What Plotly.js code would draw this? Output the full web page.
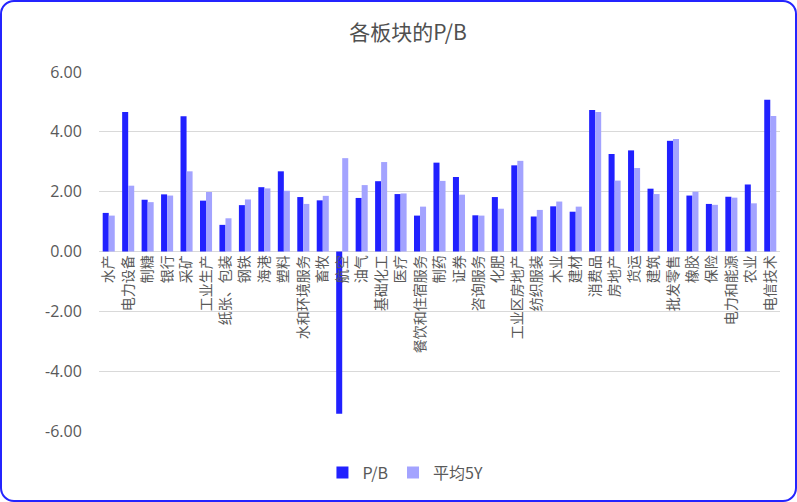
<!DOCTYPE html>
<html>
<head>
<meta charset="utf-8">
<script src="https://cdn.plot.ly/plotly-3.0.1.min.js"></script>
<style>
html,body{margin:0;padding:0;background:#fff;}
#wrap{position:relative;width:797px;height:502px;}
#chart{position:absolute;left:0;top:0;width:797px;height:502px;}
#frame{position:absolute;left:0;top:0;width:797px;height:502px;box-sizing:border-box;border:2.5px solid #2424ff;border-radius:14px;pointer-events:none;}
</style>
</head>
<body>
<div id="wrap"><div id="chart"></div><div id="frame"></div></div>
<script>
const categories = ["水产","电力设备","制糖","银行","采矿","工业生产","纸张、包装","钢铁","海港","塑料","水和环境服务","畜牧","航空","油气","基础化工","医疗","餐饮和住宿服务","制药","证券","咨询服务","化肥","工业区房地产","纺织服装","木业","建材","消费品","房地产","货运","建筑","批发零售","橡胶","保险","电力和能源","农业","电信技术"];
const pbValues = [1.29,4.66,1.73,1.91,4.52,1.70,0.89,1.55,2.15,2.68,1.82,1.71,-5.42,1.79,2.35,1.92,1.20,2.97,2.49,1.21,1.82,2.88,1.17,1.51,1.33,4.73,3.26,3.38,2.10,3.70,1.87,1.59,1.83,2.24,5.07];
const avg5YValues = [1.20,2.20,1.65,1.87,2.68,1.99,1.11,1.74,2.11,2.03,1.59,1.86,3.12,2.22,2.99,1.94,1.50,2.36,1.90,1.20,1.43,3.03,1.39,1.67,1.50,4.66,2.37,2.79,1.92,3.76,2.00,1.56,1.80,1.61,4.53];
const yTicks = [-6,-4,-2,0,2,4,6];
const yTickLabels = ["-6.00","-4.00","-2.00","0.00","2.00","4.00","6.00"];
const seriesNames = ["P/B","平均5Y"];

const grey = "#595959";
const cjk = "'Noto Sans CJK SC', 'Open Sans', sans-serif";

const traces = [
  {type:"bar", name:seriesNames[0], x:categories, y:pbValues, marker:{color:"#2121ff"}},
  {type:"bar", name:seriesNames[1], x:categories, y:avg5YValues, marker:{color:"#a3a3ff"}}
];

const layout = {
  width:797, height:502,
  margin:{l:99, r:17, t:72, b:68},
  paper_bgcolor:"#ffffff", plot_bgcolor:"#ffffff",
  title:{text:"各板块的P/B", x:0.512, xanchor:"center", y:0.935, yanchor:"middle",
         font:{family:cjk, size:21, color:"#505050"}},
  barmode:"group", bargap:0.38, bargroupgap:0,
  xaxis:{anchor:"free", position:0.5, type:"category", tickangle:-90,
         tickfont:{family:cjk, size:14, color:grey}, showgrid:false,
         showline:false, ticks:"", ticklen:0, automargin:false},
  yaxis:{range:[-6,6], tickvals:yTicks, ticktext:yTickLabels, showgrid:true,
         gridcolor:"#d9d9d9", gridwidth:1, zeroline:true, zerolinecolor:"#d9d9d9", zerolinewidth:1,
         tickfont:{family:"'Open Sans', sans-serif", size:16, color:grey},
         ticks:"outside", ticklen:13, tickcolor:"rgba(0,0,0,0)", automargin:false},
  showlegend:true,
  legend:{orientation:"h", x:0.45, xanchor:"center", y:-0.116, yanchor:"middle",
          font:{family:cjk, size:16, color:grey}, itemwidth:30, traceorder:"normal"},
  font:{family:cjk, color:grey}
};

Plotly.newPlot("chart", traces, layout, {displayModeBar:false, staticPlot:true});
</script>
</body>
</html>
